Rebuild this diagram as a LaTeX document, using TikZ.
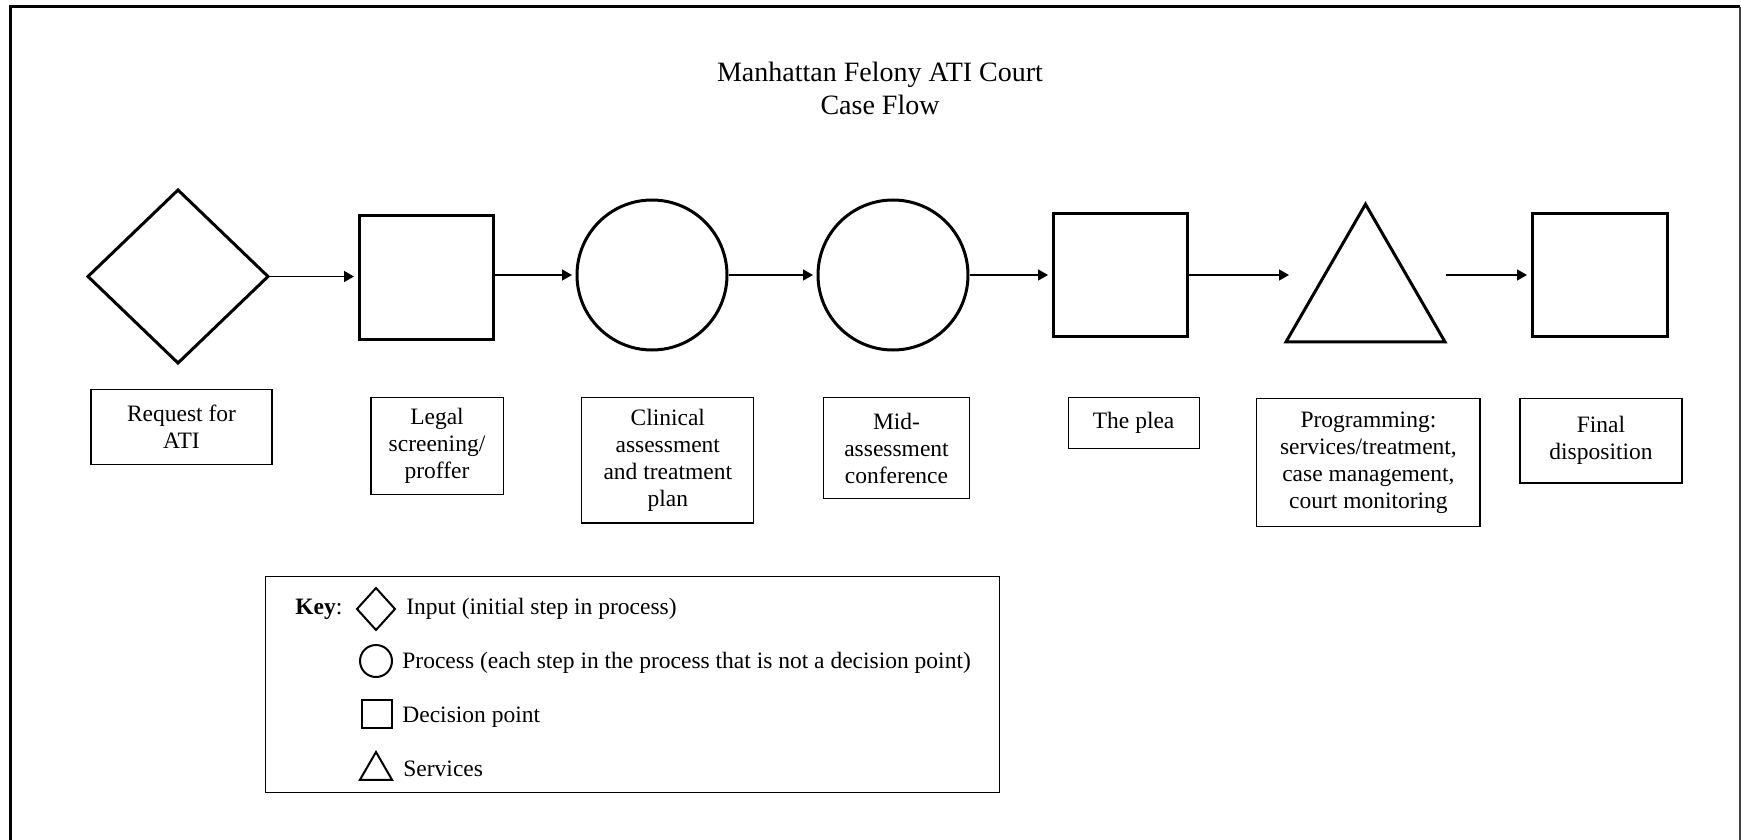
\documentclass[tikz,border=0pt]{standalone}
\usepackage{fontspec}
\setmainfont{Liberation Serif}
\usetikzlibrary{arrows.meta,shapes.geometric}

\begin{document}
\begin{tikzpicture}[x=0.5pt, y=-0.5pt,
		stepshape/.style={draw, line width=1.5pt, inner sep=0pt, outer sep=0pt},
		lbl/.style={draw, line width=0.6pt, align=center, inner sep=0pt, font=\fontsize{11.75}{13.5}\selectfont},
		flow/.style={line width=0.75pt, -{Triangle[length=5pt, width=5.5pt]}, shorten <=1pt, shorten >=2.5pt},
		keysym/.style={draw, line width=1pt, inner sep=0pt, outer sep=0pt},
		keytxt/.style={anchor=west, inner sep=0pt, font=\fontsize{11.75}{13.5}\selectfont}]
		%%%%% START %%%%%
		
		\useasboundingbox (0, 0) rectangle (1741, 840);
		\draw[line width=1.5pt] (10, 845) -- (10, 7) -- (1740, 7);
		\draw[line width=0.8pt, color=black!75] (1740, 7) -- (1740, 845);
		
		\node[align=center, inner sep=0pt, font=\fontsize{14}{16.5}\selectfont] (title) at (880, 88) {Manhattan Felony ATI Court\\Case Flow};
		
		% the flow
		\node[stepshape, diamond, minimum width=90pt, minimum height=86.5pt] (req) at (178, 276.5) {};
		\node[stepshape, rectangle, minimum width=67pt, minimum height=62pt] (legal) at (426, 277) {};
		\node[stepshape, circle, minimum size=75pt] (clin) at (652, 275) {};
		\node[stepshape, circle, minimum size=75pt] (mid) at (893, 275) {};
		\node[stepshape, rectangle, minimum width=67pt, minimum height=61.5pt] (plea) at (1120, 274.5) {};
		\node[stepshape, regular polygon, regular polygon sides=3, minimum size=91.8pt] (prog) at (1365.5, 296) {};
		\node[stepshape, rectangle, minimum width=67.5pt, minimum height=61.5pt] (final) at (1599.5, 274.5) {};
		
		\coordinate (progin) at (1294, 275);
		\coordinate (progout) at (1444, 275);
		
		\draw[flow] (req.east) -- (legal.west |- req.east);
		\draw[flow] (legal.east |- clin.west) -- (clin.west);
		\draw[flow] (clin.east) -- (mid.west);
		\draw[flow] (mid.east) -- (plea.west |- mid.east);
		\draw[flow] (plea.east |- progin) -- (progin);
		\draw[flow] (progout) -- (final.west |- progout);
		
		% the labels
		\node[lbl, minimum width=90.5pt, minimum height=37.2pt] (reqlbl) at (181.5, 427) {Request for\\ATI};
		\node[lbl, minimum width=66.1pt, minimum height=48.3pt] (legallbl) at (437, 445.8) {Legal\\screening/\\proffer};
		\node[lbl, minimum width=86pt, minimum height=62.7pt] (clinlbl) at (667.8, 460.2) {Clinical\\assessment\\and treatment\\plan};
		\node[lbl, minimum width=72.7pt, minimum height=50.5pt] (midlbl) at (896.5, 448) {Mid-\\assessment\\conference};
		\node[lbl, minimum width=65.5pt, minimum height=25.5pt] (plealbl) at (1133.6, 423) {The plea};
		\node[lbl, minimum width=111.6pt, minimum height=63.9pt] (proglbl) at (1368.4, 462.4) {Programming:\\services/treatment,\\case management,\\court monitoring};
		\node[lbl, minimum width=81pt, minimum height=42.2pt] (finallbl) at (1601, 440.8) {Final\\disposition};
		
		% the key
		\node[draw, line width=0.6pt, inner sep=0pt, minimum width=367pt, minimum height=108.25pt] (key) at (632.4, 684.5) {};
		\node[keytxt] (keyname) at (295, 609) {\textbf{Key}:};
		\node[keysym, diamond, minimum width=19pt, minimum height=21pt] (kdia) at (376, 609) {};
		\node[keytxt] (kdiatxt) at (406, 609) {Input (initial step in process)};
		\node[keysym, circle, minimum size=16pt] (kcirc) at (376, 661) {};
		\node[keytxt] (kcirctxt) at (402, 663) {Process (each step in the process that is not a decision point)};
		\node[keysym, rectangle, minimum width=15pt, minimum height=14pt] (ksq) at (377, 714) {};
		\node[keytxt] (ksqtxt) at (402, 717) {Decision point};
		\node[keysym, regular polygon, regular polygon sides=3, minimum size=18.5pt] (ktri) at (376, 770.5) {};
		\node[keytxt] (ktritxt) at (403, 769) {Services};
		
		%%%%% END %%%%%
	\end{tikzpicture}
\end{document}
